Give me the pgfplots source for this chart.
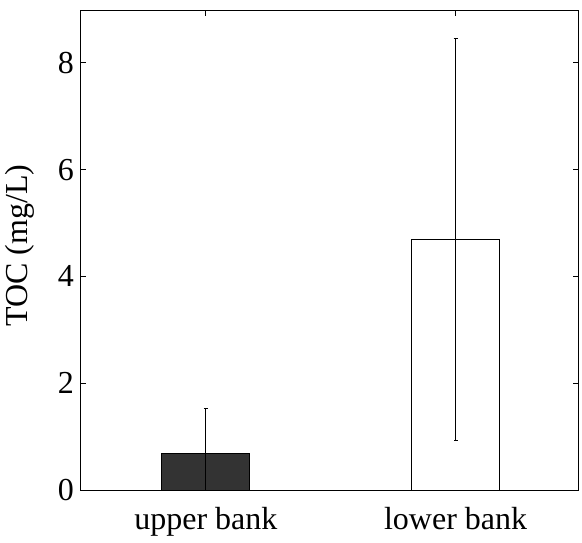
\documentclass[border=0pt]{standalone}
\usepackage{fontspec}
\setmainfont{Liberation Serif}
\usepackage{pgfplots}
\pgfplotsset{compat=1.18}
\begin{document}
\begin{tikzpicture}
  \begin{axis}[
      scale only axis,
      width=497pt, height=479pt,
      xmin=0.5, xmax=2.49,
      ymin=0, ymax=8.97,
      xtick={1,2},
      xticklabels={upper bank, lower bank},
      ytick={0,2,4,6,8},
      tick align=inside,
      major tick length=5pt,
      tick style={black, line width=0.8pt},
      axis line style={line width=1pt},
      ylabel={TOC (mg/L)},
      ylabel style={at={(rel axis cs:0,0.51)}, anchor=center, yshift=61pt},
      every tick label/.append style={font=\fontsize{32}{38}\selectfont},
      label style={font=\fontsize{32}{38}\selectfont},
      /pgf/number format/assume math mode=true,
      xticklabel style={yshift=-14pt},
      yticklabel style={xshift=-3.5pt},
      clip=true,
    ]
    \addplot[ybar, bar width=88pt, draw=black, line width=1pt, fill=black!80,
             error bars/.cd, y dir=both, y explicit,
             error bar style={line width=0.8pt},
             error mark options={rotate=90, mark size=2pt, line width=0.8pt}]
      coordinates {(1,0.68) +- (0,0.84)};
    \addplot[ybar, bar width=88pt, draw=black, line width=1pt, fill=white,
             error bars/.cd, y dir=both, y explicit,
             error bar style={line width=0.8pt},
             error mark options={rotate=90, mark size=2pt, line width=0.8pt}]
      coordinates {(2,4.69) +- (0,3.77)};
    \coordinate (ll) at (rel axis cs:0,0);
    \coordinate (ur) at (rel axis cs:1,1);
  \end{axis}
  \pgfresetboundingbox
  \useasboundingbox ([shift={(-81pt,-52pt)}]ll) rectangle ([shift={(4pt,11pt)}]ur);
\end{tikzpicture}
\end{document}
